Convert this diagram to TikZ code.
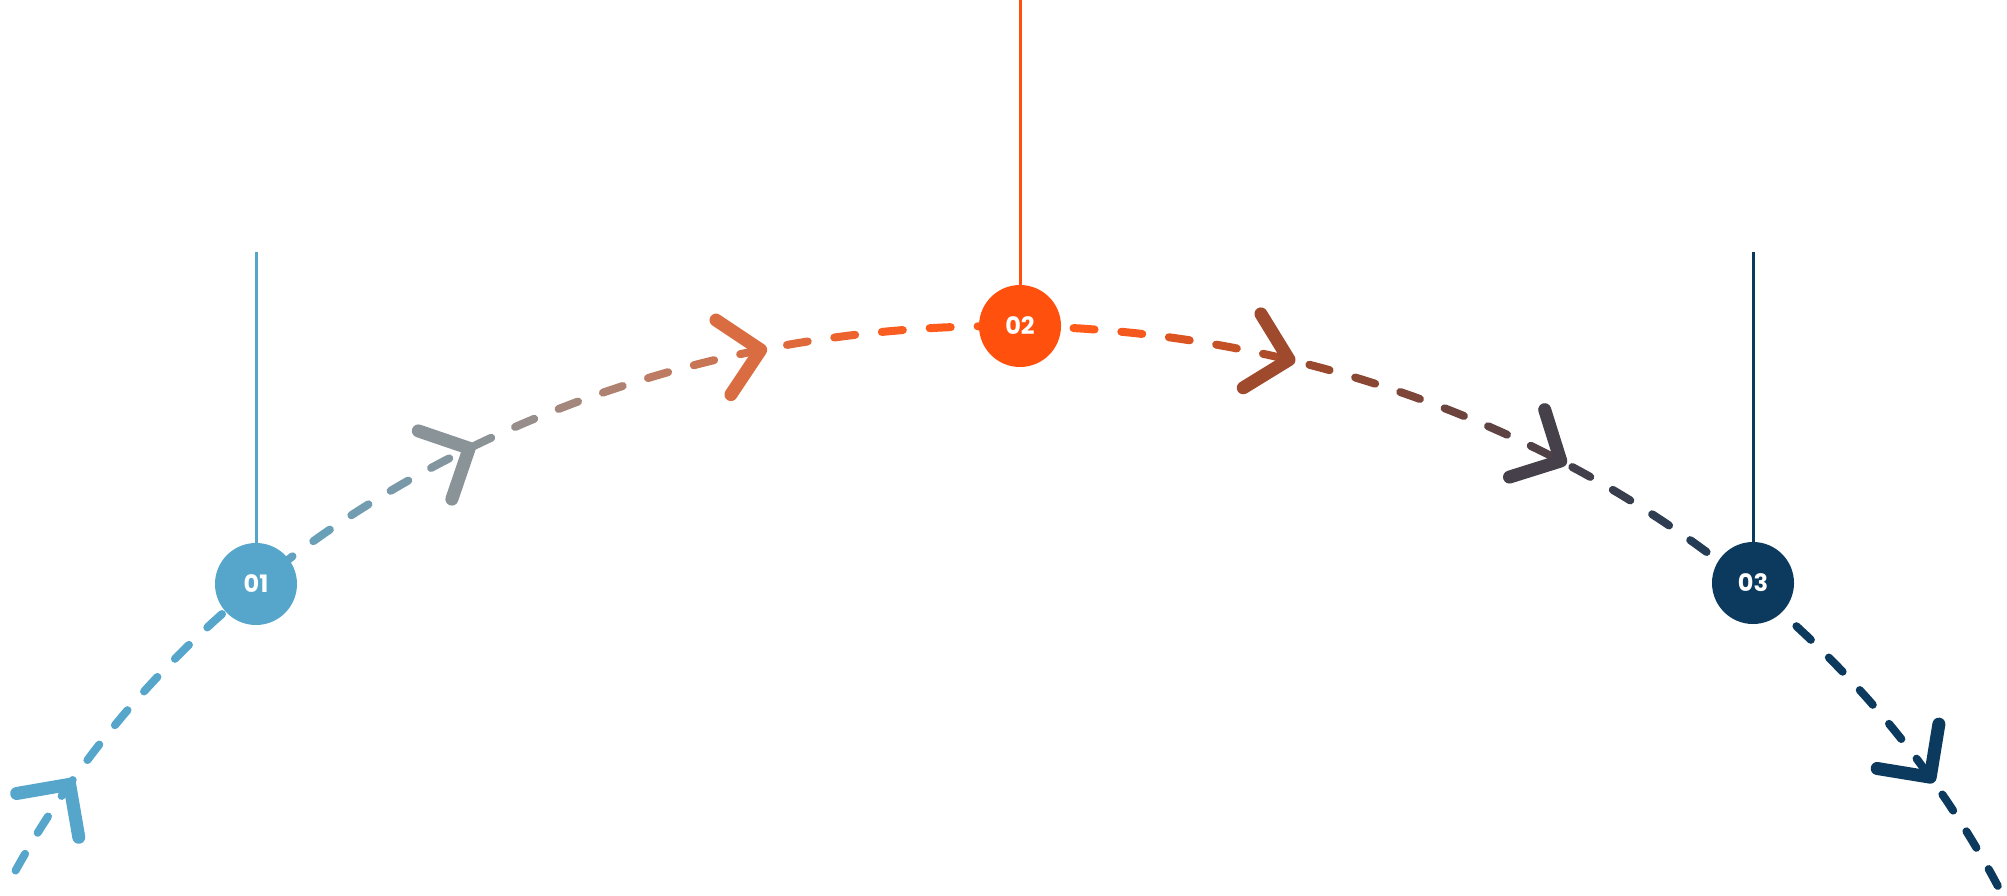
\documentclass[tikz,border=0pt]{standalone}
\usepackage{fontspec}
\setmainfont{Poppins}
\usepackage{xcolor}
\definecolor{cA}{HTML}{56A6CC}
\definecolor{cB}{HTML}{8A9398}
\definecolor{cC}{HTML}{FF5A1A}
\definecolor{cD}{HTML}{A04A2C}
\definecolor{cE}{HTML}{48404A}
\definecolor{cF}{HTML}{0C3A5E}
\definecolor{dotA}{HTML}{56A6CC}
\definecolor{dotB}{HTML}{FF510D}
\definecolor{dotC}{HTML}{0C3A5E}
% colour of the path at angle #1
\newcommand\setcur[1]{%
  \ifdim #1pt>135pt \colorlet{cur}{cA}%
  \else\ifdim #1pt>119pt \pgfmathsetmacro\pp{(#1-119)/16*100}\colorlet{cur}{cA!\pp!cB}%
  \else\ifdim #1pt>95pt \pgfmathsetmacro\pp{(#1-95)/24*100}\colorlet{cur}{cB!\pp!cC}%
  \else\ifdim #1pt>85pt \colorlet{cur}{cC}%
  \else\ifdim #1pt>75pt \pgfmathsetmacro\pp{(#1-75)/10*100}\colorlet{cur}{cC!\pp!cD}%
  \else\ifdim #1pt>60pt \pgfmathsetmacro\pp{(#1-60)/15*100}\colorlet{cur}{cD!\pp!cE}%
  \else\ifdim #1pt>45pt \pgfmathsetmacro\pp{(#1-45)/15*100}\colorlet{cur}{cE!\pp!cF}%
  \else \colorlet{cur}{cF}\fi\fi\fi\fi\fi\fi\fi}
\begin{document}
\begin{tikzpicture}[
    x=0.5pt, y=-0.5pt,
    dsh/.style = {line width=4pt, line cap=round},
    chev/.style = {line width=6.5pt, line cap=round, line join=round},
    dot/.style = {circle, minimum size=41pt, inner sep=0pt,
                  text=white, font=\fontsize{12}{12}\selectfont\bfseries},
    stem/.style = {line width=1.5pt},
                    ]
    \useasboundingbox (0,0) rectangle (2007,895);
    % dashes of the arc
    \foreach \t in {153.8,151.3,...,26}{
      \setcur{\t}
      \pgfmathsetmacro\te{\t-1.1}
      \draw[cur, dsh] plot[domain=\t:\te, samples=4]
        ({1002.5+1100*cos(\x)}, {1301-975*sin(\x)});
    }
    % chevrons
    \foreach \t in {148,119,102.7,74.9,59.5,32.5}{
      \setcur{\t}
      \pgfmathsetmacro\ang{atan2(-975*cos(\t), 1100*sin(\t))}
      \pgfmathsetmacro\px{1002.5+1100*cos(\t)}
      \pgfmathsetmacro\py{1301-975*sin(\t)}
      \draw[cur, chev, shift={(\px,\py)}, rotate=\ang]
        (-38,38) -- (0,0) -- (-38,-38);
    }
    % stems and dots
    \coordinate (t1) at (256,252);
    \coordinate (t2) at (1020,0);
    \coordinate (t3) at (1753,252);
    \node (d1) [dot, fill=dotA] at (256,584)  {01};
    \node (d2) [dot, fill=dotB] at (1020,326) {02};
    \node (d3) [dot, fill=dotC] at (1753,583) {03};
    \draw[stem, dotA] (t1) -- (d1);
    \draw[stem, dotB] (t2) -- (d2);
    \draw[stem, dotC] (t3) -- (d3);
\end{tikzpicture}
\end{document}
